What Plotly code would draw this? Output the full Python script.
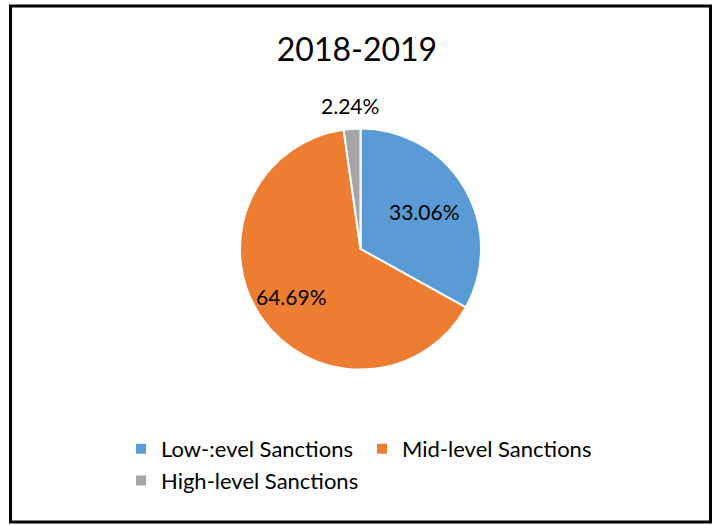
import math
import plotly.graph_objects as go

# Sanction levels and their shares for 2018-2019
categories = ["Low-:evel Sanctions", "Mid-level Sanctions", "High-level Sanctions"]
shares = [33.06, 64.69, 2.24]
colors = ["#5B9BD5", "#ED7D31", "#A5A5A5"]
title_text = "2018-2019"

W, H = 714, 525
ML, MR = 25, 25
GW = W - ML - MR
FONT = "Lato, 'Open Sans', sans-serif"

# pie placement (pixels)
CX, CY, R = 360.5, 249.0, 120.5


def fx(px):
    """pixel x -> paper x"""
    return (px - ML) / GW


def fy(py):
    """pixel y -> paper y"""
    return 1 - py / H


fig = go.Figure(
    go.Pie(
        labels=categories,
        values=shares,
        sort=False,
        direction="clockwise",
        rotation=0,
        marker=dict(colors=colors, line=dict(color="white", width=2)),
        textinfo="none",
        domain=dict(x=[fx(CX - R), fx(CX + R)], y=[fy(CY + R), fy(CY - R)]),
        hoverinfo="label+percent",
    )
)

# data labels: placed along each slice's mid-angle (clockwise from 12 o'clock)
total = sum(shares)
annotations = []
cum = 0.0
for v in shares:
    frac = v / total
    mid = 2 * math.pi * (cum + frac / 2)
    cum += frac
    rf = 1.19 if frac < 0.05 else (0.62 if frac < 0.5 else 0.70)
    px = CX + rf * R * math.sin(mid)
    py = CY - rf * R * math.cos(mid)
    annotations.append(
        dict(
            text=f"{v:.2f}%",
            x=fx(px),
            y=fy(py),
            xref="paper",
            yref="paper",
            xanchor="center",
            yanchor="middle",
            showarrow=False,
            font=dict(family=FONT, size=21, color="#000000"),
        )
    )

fig.update_layout(
    width=W,
    height=H,
    margin=dict(l=ML, r=MR, t=0, b=0),
    paper_bgcolor="white",
    font=dict(family=FONT, color="#000000"),
    title=dict(
        text=title_text,
        x=0.5,
        xanchor="center",
        y=1 - 50 / H,
        yanchor="middle",
        font=dict(family=FONT, size=32, color="#000000"),
    ),
    showlegend=True,
    legend=dict(
        orientation="h",
        x=fx(362),
        xanchor="center",
        y=fy(428),
        yanchor="top",
        font=dict(family=FONT, size=22, color="#000000"),
        entrywidth=196,
        entrywidthmode="pixels",
        bgcolor="rgba(0,0,0,0)",
    ),
    annotations=annotations,
    shapes=[
        dict(
            type="rect",
            xref="paper",
            yref="paper",
            x0=fx(10.5),
            x1=fx(710.5),
            y0=fy(522),
            y1=fy(6),
            line=dict(color="#000000", width=3),
            fillcolor="rgba(0,0,0,0)",
        )
    ],
)

fig.write_html("out.html")
